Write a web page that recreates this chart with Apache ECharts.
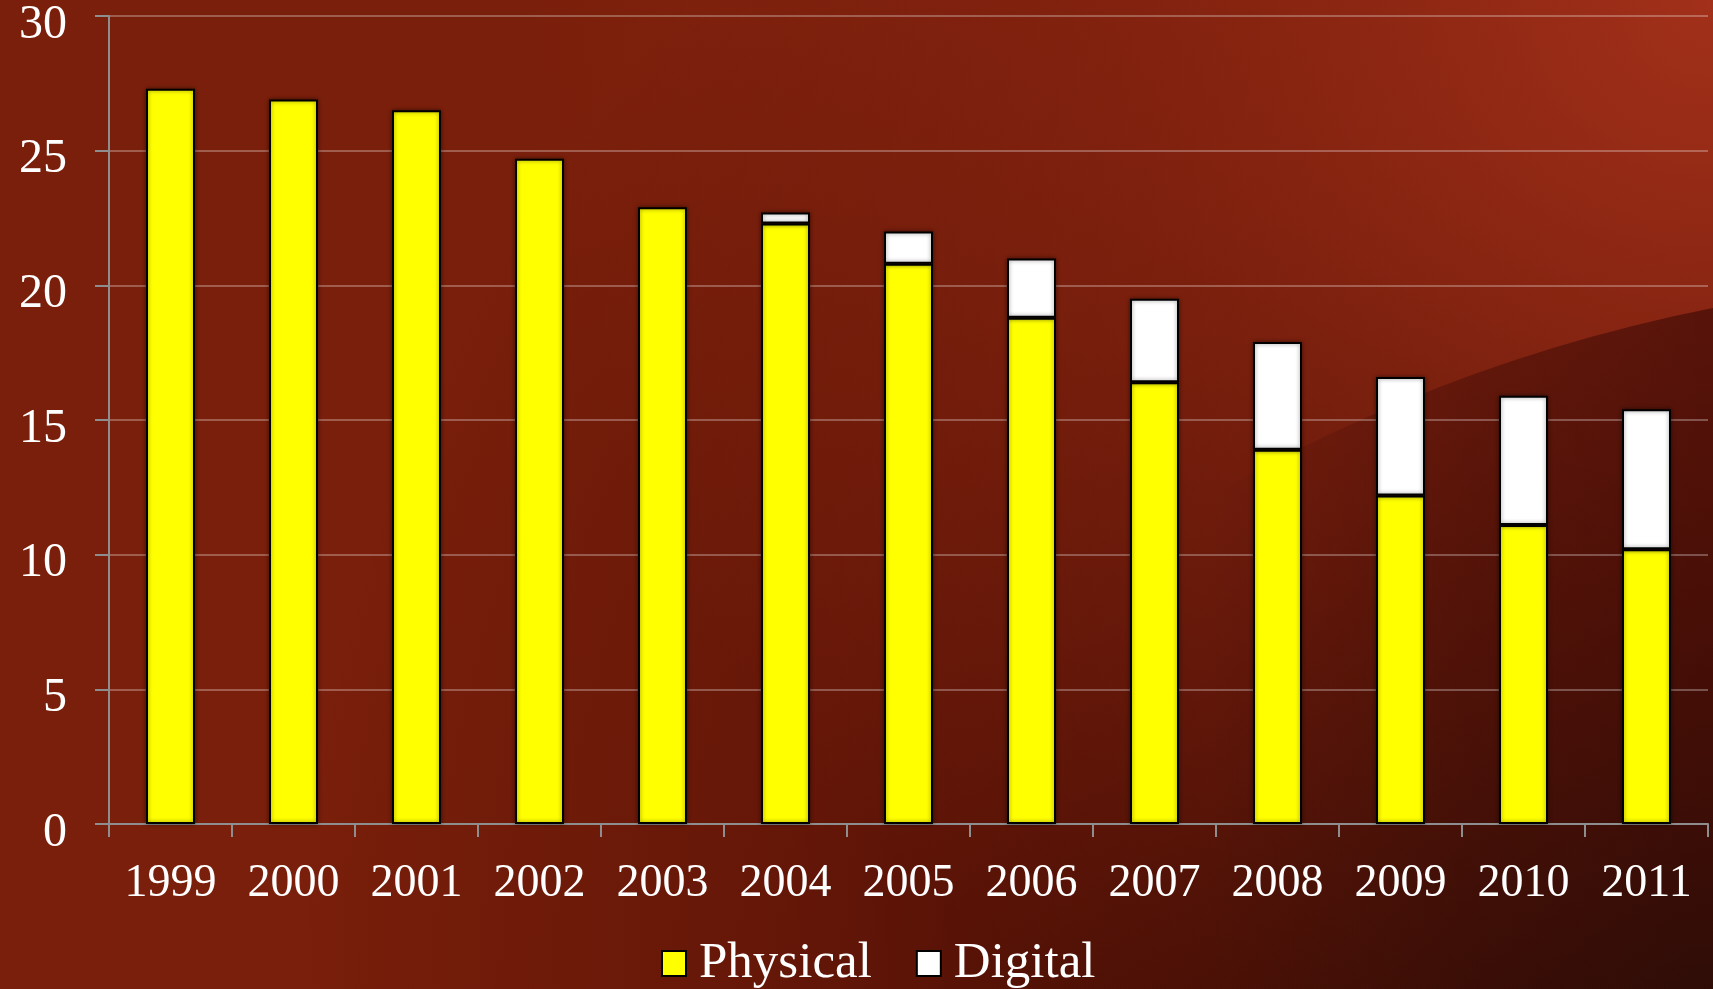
<!DOCTYPE html>
<html>
<head>
<meta charset="utf-8">
<script src="https://cdn.jsdelivr.net/npm/echarts@6/dist/echarts.min.js"></script>
<style>
  html, body { margin: 0; padding: 0; background: #5a1307; overflow: hidden; }
  #chart { width: 1713px; height: 989px; }
</style>
</head>
<body>
<div id="chart"></div>
<script>
// Revenue by year, split into physical and digital sales
const years = ['1999', '2000', '2001', '2002', '2003', '2004', '2005', '2006', '2007', '2008', '2009', '2010', '2011'];
const physical = [27.3, 26.9, 26.5, 24.7, 22.9, 22.3, 20.8, 18.8, 16.4, 13.9, 12.2, 11.1, 10.2];
const digital = [null, null, null, null, null, 0.4, 1.2, 2.2, 3.1, 4.0, 4.4, 4.8, 5.2];
const seriesNames = ['Physical', 'Digital'];
const yMin = 0, yMax = 30, yStep = 5;

const chart = echarts.init(document.getElementById('chart'), null, { renderer: 'canvas' });
const W = chart.getWidth(), H = chart.getHeight();
const FONT = '"Liberation Serif", "DejaVu Serif", serif';

// Backdrop: warm red base, a glow in the top right, shading toward the bottom right,
// and a curved shadow edge coming in from the right side
const backdrop = [
  {
    type: 'rect', z: -30, silent: true,
    shape: { x: 0, y: 0, width: W, height: H },
    style: { fill: '#7a1f0b' }
  },
  {
    type: 'rect', z: -29, silent: true,
    shape: { x: 0, y: 0, width: W, height: H },
    style: {
      fill: new echarts.graphic.RadialGradient(1, 1, 1.45, [
        { offset: 0, color: 'rgba(40,20,11,1)' },
        { offset: 0.35, color: 'rgba(50,8,2,0.72)' },
        { offset: 0.65, color: 'rgba(55,5,0,0.32)' },
        { offset: 1, color: 'rgba(55,5,0,0)' }
      ])
    }
  },
  {
    type: 'rect', z: -28, silent: true,
    shape: { x: 0, y: 0, width: W, height: H },
    style: {
      fill: new echarts.graphic.RadialGradient(1, 0, 1.2, [
        { offset: 0, color: 'rgba(162,48,26,1)' },
        { offset: 0.5, color: 'rgba(150,42,20,0.5)' },
        { offset: 1, color: 'rgba(150,42,20,0)' }
      ])
    }
  },
  {
    type: 'circle', z: -27, silent: true,
    shape: { cx: 2031, cy: 1921, r: 1644 },
    style: {
      fill: new echarts.graphic.LinearGradient(0, 0, 1, 0, [
        { offset: 0, color: 'rgba(35,0,0,0)' },
        { offset: 0.25, color: 'rgba(35,0,0,0)' },
        { offset: 0.33, color: 'rgba(35,0,0,0.32)' },
        { offset: 0.4, color: 'rgba(35,0,0,0.48)' },
        { offset: 1, color: 'rgba(35,0,0,0.48)' }
      ])
    }
  }
];

const barBase = {
  type: 'bar',
  stack: 'total',
  barWidth: 49,
  itemStyle: {
    borderColor: '#000',
    borderWidth: 2,
    shadowColor: 'rgba(0,0,0,0.45)',
    shadowBlur: 4
  }
};

const option = {
  backgroundColor: 'transparent',
  animation: false,
  graphic: { elements: backdrop },
  grid: { left: 109, right: 5, top: 16, bottom: 165, containLabel: false, outerBoundsMode: 'none' },
  legend: {
    left: 656,
    top: 933,
    itemWidth: 24,
    itemHeight: 25,
    itemGap: 44,
    icon: 'rect',
    textStyle: { color: '#fff', fontSize: 51, fontFamily: FONT, padding: [0, 0, 0, 8] },
    data: seriesNames
  },
  xAxis: {
    type: 'category',
    data: years,
    axisLine: { lineStyle: { color: '#8e8e8e', width: 2 } },
    axisTick: { show: true, length: 13, lineStyle: { color: '#8e8e8e', width: 2 } },
    axisLabel: { color: '#fff', fontSize: 46, fontFamily: FONT, margin: 37 }
  },
  yAxis: {
    type: 'value',
    min: yMin, max: yMax, interval: yStep,
    axisLine: { show: true, lineStyle: { color: '#8e8e8e', width: 2 } },
    axisTick: { show: true, length: 14, lineStyle: { color: '#8e8e8e', width: 2 } },
    axisLabel: {
      color: '#fff', fontSize: 48, fontFamily: FONT, margin: 42,
      verticalAlign: 'top', lineHeight: 18
    },
    splitLine: { lineStyle: { color: 'rgba(255,255,255,0.28)', width: 2 } }
  },
  series: [
    Object.assign({}, barBase, {
      name: seriesNames[0],
      data: physical,
      itemStyle: Object.assign({}, barBase.itemStyle, { color: '#ffff00' })
    }),
    Object.assign({}, barBase, {
      name: seriesNames[1],
      data: digital,
      itemStyle: Object.assign({}, barBase.itemStyle, { color: '#ffffff' })
    })
  ]
};

chart.setOption(option);
</script>
</body>
</html>
